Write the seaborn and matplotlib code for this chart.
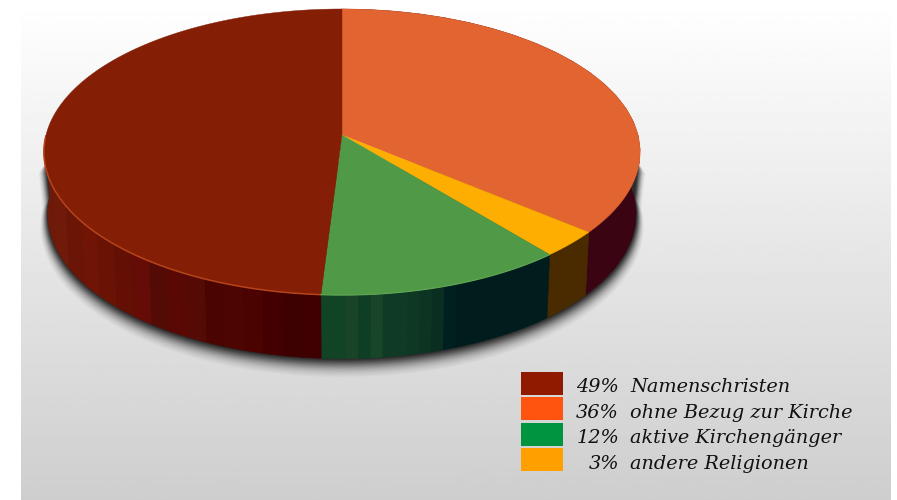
import numpy as np
import matplotlib
matplotlib.use("Agg")
import matplotlib.pyplot as plt
from matplotlib.patches import Rectangle
import seaborn as sns

# ---- data -------------------------------------------------------------
categories = ["ohne Bezug zur Kirche", "andere Religionen", "aktive Kirchengänger", "Namenschristen"]
shares = [36, 3, 12, 49]
legend_labels = ["Namenschristen", "ohne Bezug zur Kirche", "aktive Kirchengänger", "andere Religionen"]
legend_values = ["49%", "36%", "12%", "3%"]

# ---- styles -----------------------------------------------------------
top_colors = ["#e26431", "#fdae00", "#509946", "#841f06"]
legend_colors = ["#8f1a00", "#ff5410", "#009340", "#ff9f00"]
wall_bands = [
    ["#3a0412"],
    ["#4a2b00"],
    ["#001c1c"] * 8 + ["#002020", "#0a2e20", "#0d3422", "#0e3824", "#0f3b26",
                       "#0f3b26", "#17462a", "#0e3f24", "#1a4428", "#114426", "#114426"],
    ["#3e0000", "#3e0000", "#440000", "#4a0300", "#4c0500", "#4a0500", "#550a05", "#5a0804", "#540a05",
     "#650c06", "#640f04", "#6a1305", "#701505", "#6a1505", "#701a0a", "#6e1a08"],
]

W, H = 897, 500
CX, CY = 342, 135
A, B, K = 296.0, 141.0, 0.1189   # projected radii and perspective strength

sns.set_theme(style="white", rc={"axes.facecolor": "white", "figure.facecolor": "white"})
palette = sns.color_palette(top_colors)
plt.rcParams["font.family"] = ["DejaVu Serif"]

fig = plt.figure(figsize=(W / 100, H / 100), dpi=100)
ax = fig.add_axes([0, 0, 1, 1])
ax.set_axis_off()
sns.despine(ax=ax, left=True, bottom=True)

# background
grad = np.linspace(255, 206, 256).reshape(-1, 1) / 255
ax.imshow(grad, cmap="gray", vmin=0, vmax=1, extent=(21, 891, H, 0), aspect="auto", zorder=0)
ax.set_xlim(0, W)
ax.set_ylim(H, 0)


def top_rim(theta):
    x, y = np.sin(theta), np.cos(theta)
    w = 1 + K * y
    return CX + A * x / w, CY - B * y / w


def bottom_rim(theta):
    x, y = top_rim(theta)
    return CX + (x - CX) * 0.987, CY + (y - CY) * 1.01 + 62


# shadow (soft, only below and beside the disc)
tf = np.linspace(np.pi / 2, 3 * np.pi / 2, 300)
bx, by = bottom_rim(tf)
lx, ly = top_rim(np.array([3 * np.pi / 2]))
rx, ry = top_rim(np.array([np.pi / 2]))
sx, sy = np.r_[rx, bx, lx], np.r_[ry + 28, by, ly + 28]
mx, my = CX, 190
layers = np.arange(22, 0, -1.0)
for e in layers:
    fx = 1 + (0.35 * e) / 299
    fy = 1 + (0.35 * e) / 170
    ax.fill(mx + (sx - mx) * fx, my + (sy - my) * fy + 0.5 * e,
            color="black", alpha=0.014 + 0.17 * (1 - e / 22) ** 2, lw=0, zorder=1)

# slice angles
fractions = np.array(shares) / np.sum(shares)
edges = 2 * np.pi * np.r_[0, np.cumsum(fractions)]

# walls: bands are even in screen width along the front of the disc
for i, bands in enumerate(wall_bands):
    t0, t1 = edges[i], edges[i + 1]
    if i == 3:
        t1 = 3 * np.pi / 2
    if i < 2:
        bnd = np.array([t0, t1])
    else:
        bnd = np.pi - np.arcsin(np.linspace(np.sin(t0), np.sin(t1), len(bands) + 1))
    for j, col in enumerate(bands):
        t = np.linspace(bnd[j], bnd[j + 1], 24)
        xa, ya = top_rim(t)
        xb, yb = bottom_rim(t[::-1])
        ax.fill(np.r_[xa, xb], np.r_[ya, yb], color=col, lw=0.3, ec=col, zorder=2)

# top faces
for i, col in enumerate(palette):
    t = np.linspace(edges[i], edges[i + 1], 200)
    x, y = top_rim(t)
    ax.fill(np.r_[CX, x], np.r_[CY, y], color=col, lw=0.3, ec=col, zorder=3)

# rim highlights
t = np.linspace(edges[3], 3 * np.pi / 2 - 0.02, 150)
ax.plot(*top_rim(t), color="#b5441c", lw=1.1, zorder=4)
t = np.linspace(edges[2], edges[3], 60)
ax.plot(*top_rim(t), color="#5ea653", lw=0.9, zorder=4)

# legend
rows = [(372, 395, 392), (397, 420, 418), (423, 446, 443), (448, 471, 469)]
for (y0, y1, base), col, val, lab in zip(rows, legend_colors, legend_values, legend_labels):
    ax.add_patch(Rectangle((521, y0), 42, y1 - y0, color=col, lw=0, zorder=5))
    ax.text(619, base, val, ha="right", va="baseline", style="italic", fontsize=13.9, color="#111111", zorder=6)
    ax.text(630, base, lab, ha="left", va="baseline", style="italic", fontsize=13.9, color="#111111", zorder=6)

fig.savefig("out.png", dpi=100)
